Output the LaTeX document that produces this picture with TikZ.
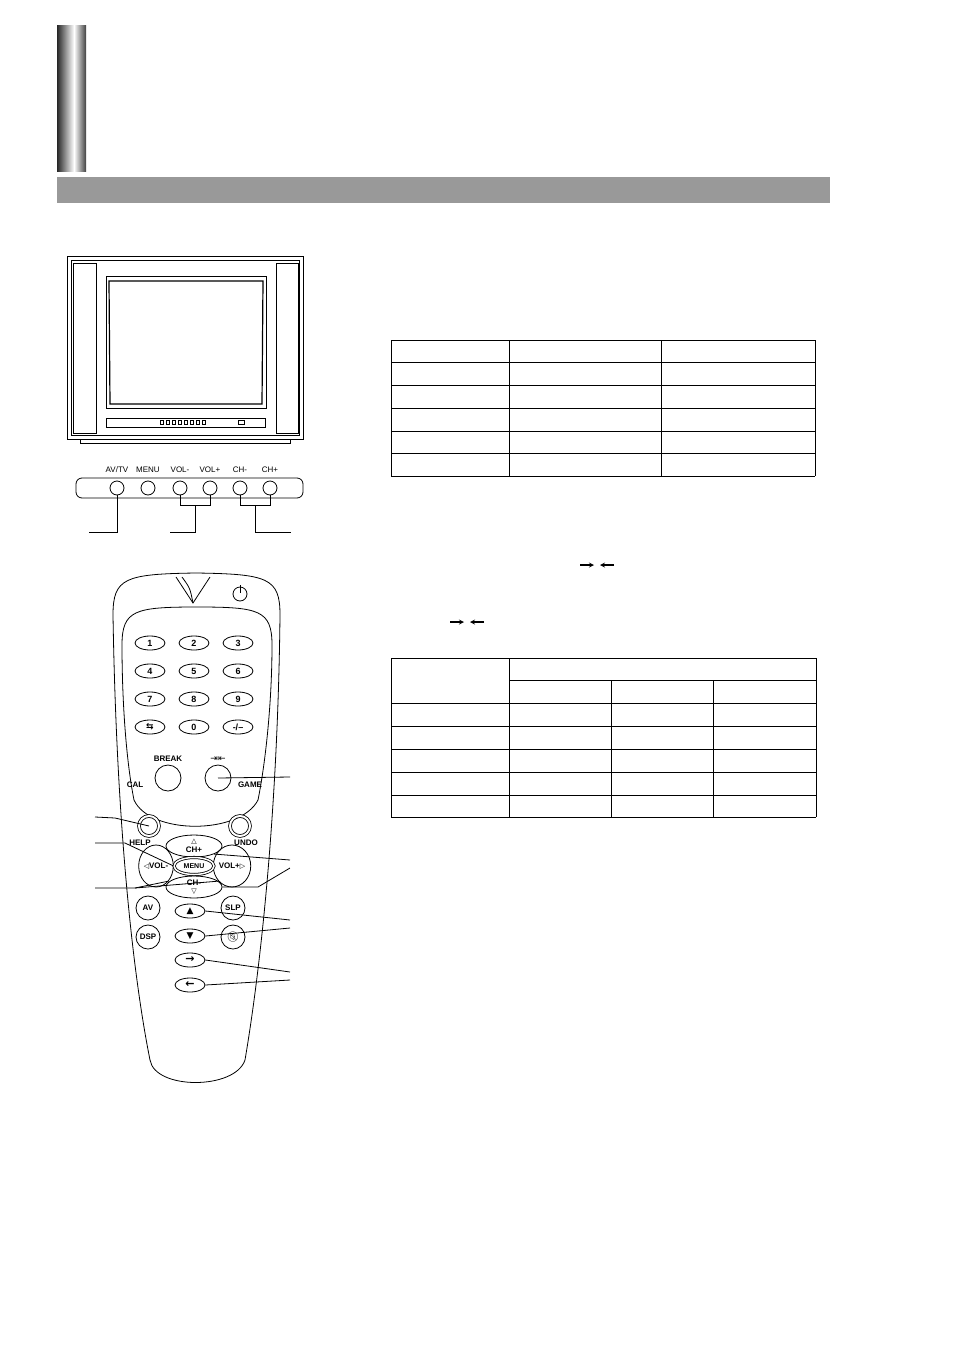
\documentclass[tikz,border=0pt]{standalone}
\usepackage{fontspec}
\setmainfont{Liberation Sans}
\newfontfamily\symfont{DejaVu Sans}
\newfontfamily\emojifont{Noto Emoji}
\usetikzlibrary{positioning,shapes.geometric}
\tikzstyle{numkey} = [ellipse, draw=black, thick, minimum width=30pt, minimum height=14pt, inner sep=0pt, font=\bfseries\fontsize{9}{9}\selectfont]
\tikzstyle{roundkey} = [circle, draw=black, thick, minimum size=24pt, inner sep=0pt, font=\bfseries\fontsize{8}{8}\selectfont]
\tikzstyle{panelkey} = [circle, draw=black, thick, minimum size=14pt, inner sep=0pt]
\tikzstyle{keylabel} = [font=\bfseries\fontsize{8}{8}\selectfont, inner sep=0pt]
\tikzstyle{lead} = [thick]
\tikzstyle{grid} = [thick]
\begin{document}
\begin{tikzpicture}[x=1pt, y=-1pt]
	\useasboundingbox (0,0) rectangle (954,1349);
	% Header
	\shade [left color=black!85, right color=white] (57,25) rectangle (74,171);
	\shade [left color=white, right color=black!75] (74,25) rectangle (86,171);
	\fill [black!40] (57,177) rectangle (830,203);
	% Television
	\draw [thick] (67,256) rectangle (303,439);
	\draw (71,260) rectangle (299,435);
	\draw [thick] (73,263) rectangle (96,433);
	\draw [thick] (276,263) rectangle (298,433);
	\draw [thick] (106,276) rectangle (266,408);
	\draw [very thick] (109,281) -- (263,281) -- (262,404) -- (110,404) -- cycle;
	\draw (106,418) rectangle (265,427);
	\foreach \i in {0,...,7}
		\draw (160+\i*6,420.5) rectangle ++(3.5,4);
	\draw (238,420.5) rectangle ++(6,4);
	\draw [thick] (80,439) -- (80,443) -- (290,443) -- (290,439);
	% Front panel
	\draw [thick, rounded corners=6pt] (76,478) rectangle (303,498);
	\foreach \name/\x/\lab in {avtv/117/AV\slash TV, menu/148/MENU, voldn/180/VOL-, volup/210/VOL+, chdn/240/CH-, chup/270/CH+} {
		\node [panelkey] (\name) at (\x,488) {};
		\node [keylabel, font=\fontsize{8}{8}\selectfont] at (\x,470) {\lab};
	}
	\draw [lead] (avtv.south) -- (117,532) -- (89,532);
	\draw [lead] (voldn.south) -- (180,505) -- (210,505) -- (volup.south);
	\draw [lead] (195,505) -- (195,532) -- (170,532);
	\draw [lead] (chdn.south) -- (240,505) -- (270,505) -- (chup.south);
	\draw [lead] (255,505) -- (255,532) -- (291,532);
	% Table one
	\foreach \y in {340,362,385,408,431,453,476}
		\draw [grid] (391,\y) -- (815,\y);
	\foreach \x in {391,509,661,815}
		\draw [grid] (\x,340) -- (\x,476);
	% Small arrows
	\draw [very thick, -stealth] (580,565) -- (594,565);
	\draw [very thick, -stealth] (614,565) -- (600,565);
	\draw [very thick, -stealth] (450,622) -- (464,622);
	\draw [very thick, -stealth] (484,622) -- (470,622);
	% Table two
	\foreach \y in {658,703,726,749,772,795,817}
		\draw [grid] (391,\y) -- (816,\y);
	\draw [grid] (509,680) -- (816,680);
	\foreach \x in {391,509,816}
		\draw [grid] (\x,658) -- (\x,817);
	\foreach \x in {611,713}
		\draw [grid] (\x,680) -- (\x,817);
	% Remote body
	\draw [thick] (113,615) .. controls (113,578) and (125,574) .. (196,573)
		.. controls (268,574) and (280,578) .. (280,615)
		.. controls (278,800) and (262,960) .. (245,1060)
		.. controls (235,1090) and (155,1090) .. (150,1060)
		.. controls (130,960) and (116,800) .. (113,615);
	\draw [thick] (176,577) -- (193,603) -- (210,577);
	\draw [thick] (182,577) .. controls (190,588) .. (193,603);
	\draw [thick] (240,594) circle (7);
	\draw [thick] (240,585) -- (240,593);
	\draw [thick] (122,645) .. controls (122,610) and (135,607) .. (197,607)
		.. controls (259,607) and (272,610) .. (272,645)
		.. controls (272,700) and (266,760) .. (258,800)
		.. controls (240,835) and (150,835) .. (134,800)
		.. controls (126,760) and (122,700) .. (122,645);
	% Number keys
	\foreach \lab [count=\n from 0] in {1,2,3,4,5,6,7,8,9,{\symfont\char"21C6},0,-/--} {
		\pgfmathtruncatemacro\col{mod(\n,3)}
		\pgfmathtruncatemacro\row{div(\n,3)}
		\node [numkey] (num\n) at (150+\col*44,643+\row*28) {\lab};
	}
	\node [roundkey, minimum size=26pt] (break) at (168,778) {};
	\node [keylabel, above=3pt of break] {BREAK};
	\node [roundkey, minimum size=26pt] (zoom) at (218,778) {};
	\node [keylabel, above=3pt of zoom, font=\symfont\fontsize{9}{9}\selectfont] {⇥⇤};
	\node [roundkey, minimum size=20pt, double, double distance=2pt] (cal) at (149,826) {};
	\node [keylabel] at (135,785) {CAL};
	\node [roundkey, minimum size=20pt, double, double distance=2pt] (game) at (240,826) {};
	\node [keylabel] at (250,785) {GAME};
	% Cursor cluster
	\node [ellipse, draw, thick, minimum width=56pt, minimum height=22pt, inner sep=0pt, keylabel] (chup) at (194,846) {\shortstack{{\symfont\fontsize{7}{7}\selectfont △}\\CH+}};
	\node [ellipse, draw, thick, minimum width=56pt, minimum height=22pt, inner sep=0pt, keylabel] (chdn) at (194,887) {\shortstack{CH-\\{\symfont\fontsize{7}{7}\selectfont ▽}}};
	\node [ellipse, draw, thick, minimum width=32pt, minimum height=42pt, inner sep=0pt, keylabel] (voldn) at (156,866) {{\symfont\fontsize{7}{7}\selectfont ◁}VOL-};
	\node [ellipse, draw, thick, minimum width=32pt, minimum height=42pt, inner sep=0pt, keylabel] (volup) at (232,866) {VOL+{\symfont\fontsize{7}{7}\selectfont ▷}};
	\node [ellipse, draw, thick, fill=white, double, double distance=1.5pt, minimum width=40pt, minimum height=17pt, inner sep=0pt, keylabel, font=\bfseries\fontsize{7}{7}\selectfont] (menu) at (194,866) {MENU};
	\node [keylabel] at (140,843) {HELP};
	\node [keylabel] at (246,843) {UNDO};
	% Lower keys
	\node [roundkey] (av) at (148,908) {AV};
	\node [roundkey] (dsp) at (148,937) {DSP};
	\node [roundkey] (slp) at (233,908) {SLP};
	\node [roundkey, font=\emojifont\fontsize{10}{10}\selectfont] (mute) at (233,937) {🔇};
	\node [numkey] (up) at (190,911) {\symfont▲};
	\node [numkey] (down) at (190,936) {\symfont▼};
	\node [numkey] (right) at (190,960) {\symfont\fontsize{11}{11}\selectfont→};
	\node [numkey] (left) at (190,985) {\symfont\fontsize{11}{11}\selectfont←};
	% Leaders
	\draw [lead] (290,777) -- (zoom.center);
	\draw [lead] (95,817) -- (115,818) -- (cal.center);
	\draw [lead] (95,843) -- (125,843) -- (menu.west);
	\draw [lead] (95,888) -- (135,888) -- (voldn.south east);
	\draw [lead] (135,888) -- (volup.south west);
	\draw [lead] (290,860) -- (chup.south east);
	\draw [lead] (290,868) -- (258,887) -- (chdn.east);
	\draw [lead] (290,920) -- (up.east);
	\draw [lead] (290,928) -- (down.east);
	\draw [lead] (290,972) -- (right.east);
	\draw [lead] (290,980) -- (left.east);
\end{tikzpicture}
\end{document}
